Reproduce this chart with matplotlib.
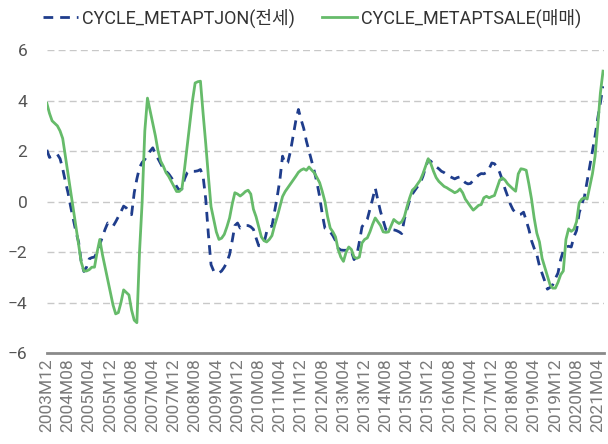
import matplotlib
matplotlib.use("Agg")
import matplotlib.pyplot as plt

plt.rcParams['font.family'] = ['Roboto', 'Noto Sans CJK KR', 'DejaVu Sans']
plt.rcParams['axes.unicode_minus'] = True

# monthly values, 2003M12 .. 2021M06
jon = [2.05, 1.75, 1.8, 1.85, 1.87, 1.7, 1.3, 0.8, 0.35, -0.2,
       -0.7, -1.2, -1.6, -2.4, -2.77, -2.6, -2.27, -2.22, -2.2, -2.0,
       -1.7, -1.4, -1.1, -0.85, -0.92, -0.98, -0.8, -0.6, -0.4, -0.18,
       -0.25, -0.4, -0.52, 0.35, 0.9, 1.35, 1.55, 1.67, 1.85, 2.0,
       2.13, 1.9, 1.7, 1.5, 1.3, 1.2, 1.1, 0.95, 0.8, 0.6,
       0.45, 0.5, 0.9, 1.14, 1.22, 1.2, 1.2, 1.22, 1.27, 1.0,
       0.1, -1.3, -2.5, -2.75, -2.83, -2.83, -2.75, -2.6, -2.4, -2.1,
       -1.55, -0.95, -0.85, -1.05, -1.0, -0.95, -0.95, -1.0, -1.1, -1.44,
       -1.75, -1.75, -1.65, -1.2, -1.0, -0.98, -0.4, 0.2, 0.87, 1.8,
       1.5, 1.55, 2.0, 2.6, 3.2, 3.65, 3.25, 2.9, 2.4, 2.0,
       1.6, 1.2, 0.75, 0.2, -0.5, -1.05, -1.1, -1.2, -1.35, -1.55,
       -1.85, -1.92, -1.93, -1.93, -1.95, -1.97, -2.3, -2.15, -1.6, -1.0,
       -0.85, -0.7, -0.3, 0.1, 0.54, 0.05, -0.4, -0.75, -1.1, -1.14,
       -1.1, -1.12, -1.15, -1.2, -1.27, -0.7, -0.3, 0.05, 0.3, 0.45,
       0.6, 0.74, 1.0, 1.35, 1.65, 1.6, 1.45, 1.38, 1.3, 1.2,
       1.15, 1.07, 1.0, 0.95, 0.9, 0.95, 0.98, 0.85, 0.75, 0.7,
       0.72, 0.85, 0.94, 1.05, 1.11, 1.1, 1.15, 1.3, 1.53, 1.5,
       1.37, 1.15, 0.85, 0.5, 0.21, -0.1, -0.32, -0.45, -0.52, -0.5,
       -0.42, -0.75, -1.1, -1.55, -1.85, -2.1, -2.55, -2.85, -3.15, -3.47,
       -3.4, -3.3, -3.05, -2.83, -2.3, -1.95, -1.8, -1.77, -1.8, -1.4,
       -1.15, -0.45, -0.1, 0.21, 0.8, 1.4, 2.0, 2.6, 3.3, 3.92,
       4.57]

sale = [3.9, 3.5, 3.2, 3.1, 3.0, 2.8, 2.5, 1.8, 1.1, 0.4,
        -0.3, -1.0, -1.7, -2.4, -2.75, -2.75, -2.7, -2.6, -2.6, -2.0,
        -1.5, -2.1, -2.6, -3.1, -3.6, -4.1, -4.45, -4.4, -4.0, -3.5,
        -3.6, -3.7, -4.3, -4.7, -4.8, -2.0, 0.0, 2.8, 4.1, 3.6,
        3.1, 2.6, 2.0, 1.6, 1.4, 1.15, 1.0, 0.8, 0.6, 0.4,
        0.4, 0.5, 1.3, 2.2, 3.1, 4.0, 4.7, 4.75, 4.77, 3.5,
        2.3, 1.0, -0.2, -0.7, -1.2, -1.5, -1.45, -1.3, -1.0, -0.65,
        -0.1, 0.35, 0.3, 0.22, 0.3, 0.4, 0.45, 0.3, -0.3, -0.6,
        -1.0, -1.4, -1.55, -1.6, -1.5, -1.35, -0.95, -0.6, -0.2, 0.2,
        0.4, 0.55, 0.7, 0.85, 1.0, 1.16, 1.25, 1.3, 1.24, 1.37,
        1.25, 1.14, 0.95, 0.75, 0.4, 0.0, -0.6, -1.05, -1.2, -1.4,
        -1.9, -2.2, -2.37, -2.0, -1.8, -1.9, -2.2, -2.25, -2.2, -1.64,
        -1.5, -1.44, -1.2, -0.9, -0.65, -0.8, -0.95, -1.2, -1.22, -1.2,
        -0.95, -0.71, -0.8, -0.87, -0.8, -0.6, -0.2, 0.15, 0.45, 0.55,
        0.7, 0.85, 1.1, 1.4, 1.7, 1.5, 1.2, 0.95, 0.8, 0.7,
        0.6, 0.55, 0.48, 0.42, 0.35, 0.4, 0.5, 0.35, 0.1, -0.05,
        -0.2, -0.34, -0.25, -0.15, -0.12, 0.15, 0.21, 0.15, 0.2, 0.24,
        0.55, 0.85, 0.94, 0.85, 0.7, 0.6, 0.5, 0.41, 1.1, 1.3,
        1.28, 1.24, 0.7, 0.1, -0.65, -1.25, -1.6, -2.25, -2.6, -2.95,
        -3.3, -3.43, -3.43, -3.2, -2.9, -2.75, -1.5, -1.08, -1.18, -1.1,
        -0.8, -0.05, 0.1, 0.15, 0.1, 0.6, 1.1, 1.8, 3.0, 4.3,
        5.17]

months = []
y, m = 2003, 12
for _ in range(len(jon)):
    months.append(f"{y}M{m:02d}")
    m += 1
    if m > 12:
        y, m = y + 1, 1

x = list(range(len(months)))

fig = plt.figure(figsize=(6.08, 4.44), dpi=100)
ax = fig.add_axes([0.077, 0.205, 0.917, 0.682])

ax.plot(x, jon, color='#1f3d8c', lw=2, ls=(0, (3.5, 2.5)), label='CYCLE_METAPTJON(전세)')
ax.plot(x, sale, color='#66bb6a', lw=2, label='CYCLE_METAPTSALE(매매)')

ax.set_xlim(0, len(x) - 0.5)
ax.set_ylim(-6, 6)
ax.set_yticks([-6, -4, -2, 0, 2, 4, 6])
ax.yaxis.grid(True, color='#c8c8c8', ls=(0, (5, 3)), lw=1)
ax.set_axisbelow(True)

ax.set_xticks(x[::8])
ax.set_xticklabels(months[::8], rotation=90, fontsize=12.5, color='#7a7a7a')
ax.tick_params(axis='y', labelsize=12.5, labelcolor='#555555', length=0, pad=14)
ax.tick_params(axis='x', length=0, pad=4)

for s in ['top', 'right', 'left']:
    ax.spines[s].set_visible(False)
ax.spines['bottom'].set_color('#8a8a8a')
ax.spines['bottom'].set_linewidth(2)

ax.legend(loc='lower center', bbox_to_anchor=(0.476, 1.02), ncol=2, frameon=False,
          fontsize=13, handlelength=1.95, columnspacing=1.5, handletextpad=0.22,
          labelcolor='#333333')

fig.savefig('out.png', dpi=100)
